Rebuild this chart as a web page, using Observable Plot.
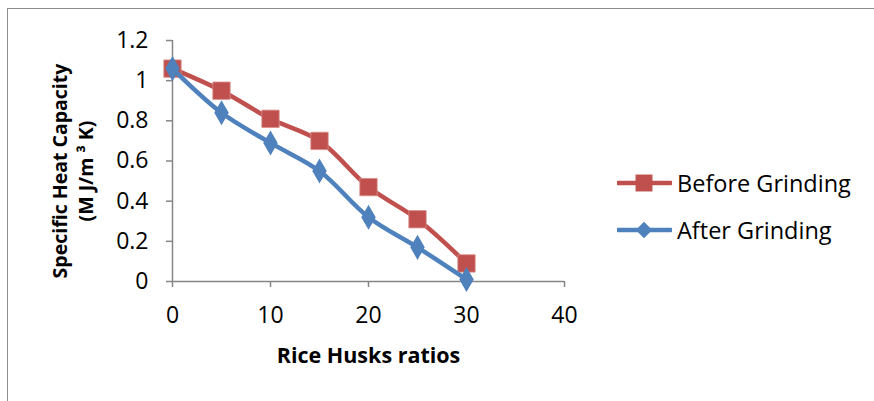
<!DOCTYPE html>
<html><head><meta charset="utf-8">
<script src="https://cdn.jsdelivr.net/npm/d3@7"></script>
<script src="https://cdn.jsdelivr.net/npm/@observablehq/plot@0.6"></script>
<style>
body{margin:0;background:#fff;font-family:"Open Sans",sans-serif;}
#wrap{position:relative;width:874px;height:401px;overflow:hidden;background:#fff;}
#frame{position:absolute;left:7px;top:8px;width:900px;height:500px;border-left:1.5px solid #8c8c8c;border-top:1.5px solid #8c8c8c;}
#chart{position:absolute;left:0;top:0;}
#legend{position:absolute;left:617px;top:0;}
.item{position:absolute;left:0;height:30px;display:flex;align-items:center;white-space:nowrap;font-size:23.5px;color:#000;}
.item svg{display:block;margin-right:5px;}
</style>
</head><body>
<div id="wrap"><div id="frame"></div><div id="chart"></div><div id="legend"></div></div>
<script>
const ratios = [0, 5, 10, 15, 20, 25, 30];
const beforeGrinding = [1.06, 0.95, 0.81, 0.70, 0.47, 0.31, 0.09];
const afterGrinding = [1.06, 0.84, 0.69, 0.55, 0.32, 0.17, 0.01];
const seriesNames = ["Before Grinding", "After Grinding"];
const seriesColors = ["#C0504D", "#4F81BD"];
const xTicks = [0, 10, 20, 30, 40];
const yTicks = [0, 0.2, 0.4, 0.6, 0.8, 1, 1.2];
const xTitle = "Rice Husks ratios";
const yTitle = "Specific Heat Capacity\n(M J/m \u00B3 K)";

const rows = [];
ratios.forEach((r, i) => {
  rows.push({x: r, y: beforeGrinding[i], s: seriesNames[0]});
  rows.push({x: r, y: afterGrinding[i], s: seriesNames[1]});
});
const before = rows.filter(d => d.s === seriesNames[0]);
const after = rows.filter(d => d.s === seriesNames[1]);
const fmt = d => String(+d.toFixed(1));
const axisGray = "#868686";

const chart = Plot.plot({
  width: 874, height: 401,
  marginLeft: 172, marginRight: 310, marginTop: 40, marginBottom: 120,
  x: {domain: [0, 40]},
  y: {domain: [0, 1.2]},
  style: {fontFamily: "'Open Sans', sans-serif", fontSize: "23px", color: "#000", background: "transparent", overflow: "visible"},
  marks: [
    Plot.axisY({ticks: yTicks, tickSize: 6, tickPadding: 18, tickFormat: fmt, stroke: axisGray, strokeWidth: 1.5, fill: "#000", label: null, fontSize: 23}),
    Plot.axisX({ticks: xTicks, tickSize: 6, tickPadding: 19, tickFormat: fmt, stroke: axisGray, strokeWidth: 1.5, fill: "#000", label: null, fontSize: 23}),
    Plot.ruleX([0], {stroke: axisGray, strokeWidth: 1.5}),
    Plot.ruleY([0], {stroke: axisGray, strokeWidth: 1.5}),
    Plot.line(before, {x: "x", y: "y", stroke: seriesColors[0], strokeWidth: 4.5, curve: "catmull-rom"}),
    Plot.dot(before, {x: "x", y: "y", symbol: "square", r: 9.8, fill: seriesColors[0], stroke: "#d98e8c", strokeWidth: 0.8}),
    Plot.line(after, {x: "x", y: "y", stroke: seriesColors[1], strokeWidth: 4.5, curve: "catmull-rom"}),
    Plot.dot(after, {x: "x", y: "y", symbol: "diamond", r: 7.6, fill: seriesColors[1]}),
    Plot.text([xTitle], {text: d => d, frameAnchor: "bottom", dy: 75, lineAnchor: "middle", fontWeight: "bold", fontSize: 21.5}),
    Plot.text([yTitle], {text: d => d, frameAnchor: "left", textAnchor: "middle", lineAnchor: "middle", rotate: -90, dx: -101, dy: 10, lineHeight: 1.35, fontWeight: "bold", fontSize: 19.5})
  ]
});
document.getElementById("chart").appendChild(chart);

const legend = document.getElementById("legend");
const rowsY = [183, 230];
seriesNames.forEach((name, i) => {
  const item = document.createElement("div");
  item.className = "item";
  item.style.top = (rowsY[i] - 15) + "px";
  const svg = d3.create("svg").attr("width", 55).attr("height", 30);
  svg.append("line").attr("x1", 1).attr("x2", 54).attr("y1", 15).attr("y2", 15)
    .attr("stroke", seriesColors[i]).attr("stroke-width", 4.5).attr("stroke-linecap", "round");
  const sym = i === 0 ? d3.symbolSquare : d3.symbolDiamond2;
  const size = i === 0 ? Math.PI * 9.8 * 9.8 * 0.95 : Math.PI * 7.6 * 7.6 * 0.95;
  svg.append("path").attr("transform", "translate(27,15)").attr("d", d3.symbol(sym, size)())
    .attr("fill", seriesColors[i]);
  item.appendChild(svg.node());
  const t = document.createElement("span");
  t.textContent = name;
  item.appendChild(t);
  legend.appendChild(item);
});
</script>
</body></html>
